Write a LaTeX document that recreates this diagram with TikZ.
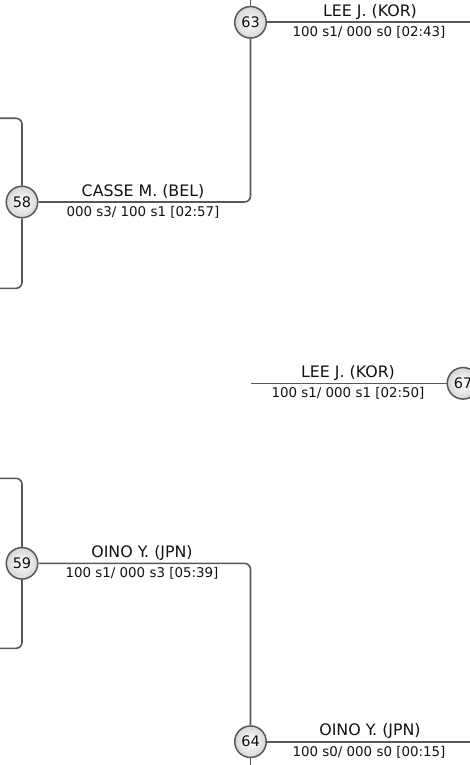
\documentclass[tikz,border=0pt]{standalone}
\usepackage{fontspec}
\setmainfont{DejaVu Sans}
\definecolor{lnc}{HTML}{585858}
\definecolor{txc}{HTML}{111111}
\tikzset{
  conn/.style={draw=lnc, line width=1.6pt, rounded corners=6pt},
  mnode/.style={circle, draw=lnc, line width=1.5pt, minimum size=31.5pt, inner sep=0pt,
    inner color=white, outer color=black!16, text=txc, font=\fontsize{14.5}{16}\selectfont},
  pname/.style={anchor=base, inner sep=0pt, text=txc, font=\fontsize{15.8}{18}\selectfont},
  pscore/.style={anchor=base, inner sep=0pt, text=txc, font=\fontsize{13.4}{15}\selectfont},
}
\begin{document}
\begin{tikzpicture}[x=1pt, y=-1pt]
\useasboundingbox (0,0) rectangle (470,765);
% match nodes
\node[mnode] (c58) at (22,202) {58};
\node[mnode] (c63) at (250.5,22.3) {63};
\node[mnode] (c67) at (463,383.3) {67};
\node[mnode] (c59) at (22,563.3) {59};
\node[mnode] (c64) at (250.5,741.7) {64};
% free ends
\coordinate (t58) at (0,118.3);
\coordinate (b58) at (0,288.3);
\coordinate (t59) at (0,478.3);
\coordinate (b59) at (0,648.3);
\coordinate (top63) at (250.5,-2);
\coordinate (r63) at (472,22.3);
\coordinate (l67) at (251,383.3);
\coordinate (bot64) at (250.5,767);
\coordinate (r64) at (472,741.7);
% connectors
\draw[conn] (t58) -| (c58.north);
\draw[conn] (b58) -| (c58.south);
\draw[conn] (t59) -| (c59.north);
\draw[conn] (b59) -| (c59.south);
\draw[conn] (c58.east) -| (c63.south);
\draw[conn] (c59.east) -| (c64.north);
\draw[conn] (c63.north) -- (top63);
\draw[conn] (c63.east) -- (r63);
\draw[conn] (l67) -- (c67.west);
\draw[conn] (c64.south) -- (bot64);
\draw[conn] (c64.east) -- (r64);
% labels
\node[pname] (n63) at (370,16.5) {LEE J. (KOR)};
\node[pscore] (s63) at (369,37) {100 s1/ 000 s0 [02:43]};
\node[pname] (n58) at (143,196.3) {CASSE M. (BEL)};
\node[pscore] (s58) at (143,216.7) {000 s3/ 100 s1 [02:57]};
\node[pname] (n67) at (348,377) {LEE J. (KOR)};
\node[pscore] (s67) at (348,397) {100 s1/ 000 s1 [02:50]};
\node[pname] (n59) at (142,557.3) {OINO Y. (JPN)};
\node[pscore] (s59) at (142,577.7) {100 s1/ 000 s3 [05:39]};
\node[pname] (n64) at (370,735.7) {OINO Y. (JPN)};
\node[pscore] (s64) at (369,756) {100 s0/ 000 s0 [00:15]};
\end{tikzpicture}
\end{document}
